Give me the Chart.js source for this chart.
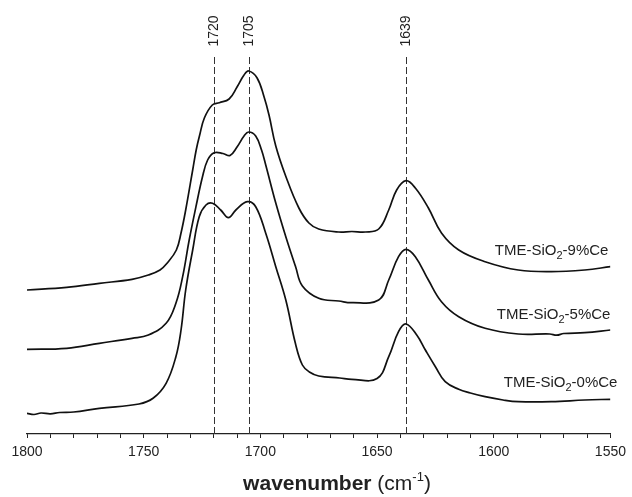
<!DOCTYPE html>
<html>
<head>
<meta charset="utf-8">
<script src="https://cdn.jsdelivr.net/npm/chart.js@4/dist/chart.umd.min.js"></script>
<style>
  html, body { margin: 0; padding: 0; background: #fff; }
  #wrap { width: 632px; height: 497px; position: relative; }
</style>
</head>
<body>
<div id="wrap"><canvas id="c" width="632" height="497"></canvas></div>
<script>
// ---- data (wavenumber in cm-1, absorbance in arbitrary offset units) ----
const seriesNames = ['TME-SiO2-9%Ce', 'TME-SiO2-5%Ce', 'TME-SiO2-0%Ce'];

const x9 = [1800, 1783, 1769, 1755, 1748, 1743, 1740, 1736, 1734, 1732, 1729, 1727.5, 1726, 1724, 1720.6, 1717.6, 1713.4, 1710, 1707, 1705, 1701.4, 1698.4, 1696.3, 1693.4, 1689, 1683.5, 1679.2, 1675, 1666.4, 1660.8, 1655, 1649.3, 1645, 1641.6, 1637.6, 1633.6, 1628, 1622.4, 1615, 1603.7, 1589.5, 1575.3, 1561, 1550];
const y9 = [144, 146.7, 150.7, 154.7, 159, 164, 170.7, 184, 201, 224, 264, 284, 299, 316, 329, 331.3, 335, 347, 359, 363, 356, 337, 319, 288, 257, 226, 211, 205, 202, 202.5, 202, 205, 224, 244, 253.3, 246, 226, 201, 184, 172.3, 164, 162.3, 164, 167.3];

const x5 = [1800, 1783, 1769, 1755, 1748, 1740.4, 1736.2, 1733.3, 1730.5, 1727.6, 1724.8, 1722.6, 1719.8, 1716, 1713, 1710, 1707, 1705, 1702, 1699.5, 1697.7, 1693.4, 1689.1, 1684.9, 1682, 1675, 1666.4, 1660.8, 1649.3, 1645, 1640.8, 1637.6, 1633.6, 1628, 1622.4, 1615, 1603.7, 1589.5, 1576, 1573, 1570, 1561, 1550];
const y5 = [84.7, 85.7, 90.7, 95.7, 99, 110.7, 130.7, 157.3, 194, 227.3, 257.3, 274, 281.3, 280.5, 278.5, 287, 298, 302, 298, 284, 269, 231, 197.3, 167.3, 148, 135.7, 133, 131.3, 134, 154, 177.3, 184.7, 177.3, 154, 132.3, 117.3, 105.7, 100, 100, 98.8, 100.5, 101.3, 104];

const x0 = [1800, 1797, 1794, 1790, 1786, 1780, 1769, 1752, 1746, 1740.4, 1736.2, 1734, 1732, 1729, 1726.2, 1723.3, 1720.5, 1717, 1713.7, 1710.5, 1705.6, 1702, 1697.7, 1693.4, 1689.1, 1685, 1682, 1679, 1675, 1666, 1660.8, 1650, 1645, 1640.8, 1637.6, 1633, 1629.3, 1625, 1620.8, 1615, 1610, 1603.7, 1596, 1589.5, 1575.3, 1561, 1550];
const y0 = [20.7, 19.5, 21, 20.2, 21.5, 22, 25.7, 30, 35.7, 50.7, 77.3, 104, 144, 184, 217.3, 229, 230.7, 224, 216.3, 224, 232.3, 227.3, 200.7, 167.3, 134, 90.7, 69, 62, 58, 56, 54.7, 55.5, 77.3, 102.3, 110, 99, 84, 67.3, 52.3, 44.7, 41, 37.3, 34, 32.3, 32.3, 34, 34.7];

const majorTicks = [1800, 1750, 1700, 1650, 1600, 1550];
const markerPositions = [1720, 1705, 1637.6];
const markerLabels = ['1720', '1705', '1639'];

const FONT = '"Liberation Sans", Arial, Helvetica, sans-serif';

function pts(xs, ys) { return xs.map((x, i) => ({ x: x, y: ys[i] })); }

const labelPlugin = {
  id: 'decor',
  beforeDatasetsDraw(chart) {
    const ctx = chart.ctx, xs = chart.scales.x, area = chart.chartArea;
    ctx.save();
    ctx.strokeStyle = '#333';
    ctx.lineWidth = 1;
    ctx.setLineDash([7, 3]);
    markerPositions.forEach(v => {
      const px = Math.round(xs.getPixelForValue(v)) + 0.5;
      ctx.beginPath();
      ctx.moveTo(px, area.top);
      ctx.lineTo(px, area.bottom);
      ctx.stroke();
    });
    ctx.restore();
  },
  afterDraw(chart) {
    const ctx = chart.ctx, xs = chart.scales.x, ys = chart.scales.y, area = chart.chartArea;
    ctx.save();
    ctx.fillStyle = '#222';
    ctx.font = '14px ' + FONT;
    ctx.textAlign = 'center';
    ctx.textBaseline = 'middle';
    markerPositions.forEach((v, i) => {
      const px = xs.getPixelForValue(v);
      ctx.save();
      ctx.translate(px, area.top - 26);
      ctx.rotate(-Math.PI / 2);
      ctx.fillText(markerLabels[i], 0, 0);
      ctx.restore();
    });
    const anchors = [[area.right - 2, ys.getPixelForValue(179)], [area.right, ys.getPixelForValue(115)], [area.right + 7, ys.getPixelForValue(47)]];
    seriesNames.forEach((name, i) => {
      const parts = name.split('2');
      const a = parts[0], b = parts.slice(1).join('2');
      ctx.textAlign = 'left';
      ctx.textBaseline = 'alphabetic';
      ctx.font = '15px ' + FONT;
      const wa = ctx.measureText(a).width, wb = ctx.measureText(b).width;
      ctx.font = '11px ' + FONT;
      const w2 = ctx.measureText('2').width;
      let x = anchors[i][0] - (wa + w2 + wb);
      const y = anchors[i][1];
      ctx.font = '15px ' + FONT;
      ctx.fillText(a, x, y); x += wa;
      ctx.font = '11px ' + FONT;
      ctx.fillText('2', x, y + 4); x += w2;
      ctx.font = '15px ' + FONT;
      ctx.fillText(b, x, y);
    });
    // axis title
    ctx.textBaseline = 'alphabetic';
    const FS = 21;
    ctx.font = 'bold ' + FS + 'px ' + FONT;
    const t1 = 'wavenumber ';
    const w1 = ctx.measureText(t1).width;
    ctx.font = FS + 'px ' + FONT;
    const t2 = '(cm', t4 = ')';
    const wt2 = ctx.measureText(t2).width, wt4 = ctx.measureText(t4).width;
    ctx.font = '13px ' + FONT;
    const t3 = '-1';
    const wt3 = ctx.measureText(t3).width;
    const total = w1 + wt2 + wt3 + wt4;
    let tx = 337 - total / 2;
    const ty = 490;
    ctx.textAlign = 'left';
    ctx.font = 'bold ' + FS + 'px ' + FONT; ctx.fillText(t1, tx, ty); tx += w1;
    ctx.font = FS + 'px ' + FONT; ctx.fillText(t2, tx, ty); tx += wt2;
    ctx.font = '13px ' + FONT; ctx.fillText(t3, tx, ty - 9); tx += wt3;
    ctx.font = FS + 'px ' + FONT; ctx.fillText(t4, tx, ty);
    ctx.restore();
  }
};

const lineStyle = { borderColor: '#111', borderWidth: 1.7, pointRadius: 0, fill: false, tension: 0.4 };

new Chart(document.getElementById('c'), {
  type: 'line',
  data: {
    datasets: [
      Object.assign({ label: seriesNames[0], data: pts(x9, y9) }, lineStyle),
      Object.assign({ label: seriesNames[1], data: pts(x5, y5) }, lineStyle),
      Object.assign({ label: seriesNames[2], data: pts(x0, y0) }, lineStyle)
    ]
  },
  options: {
    responsive: false,
    animation: false,
    devicePixelRatio: 1,
    layout: { padding: { left: 27, right: 19, top: 57, bottom: 0 } },
    plugins: { legend: { display: false }, tooltip: { enabled: false } },
    scales: {
      x: {
        type: 'linear',
        reverse: true,
        min: 1550, max: 1800,
        afterFit(scale) { scale.height = 63; },
        border: { display: true, color: '#222', width: 1.2 },
        grid: { display: true, drawOnChartArea: false, drawTicks: true, tickLength: 4, color: '#222', lineWidth: 1 },
        ticks: {
          stepSize: 10,
          autoSkip: false,
          maxRotation: 0,
          padding: 6,
          color: '#222',
          font: { family: FONT, size: 14 },
          callback: (v) => majorTicks.includes(v) ? String(v) : ''
        }
      },
      y: { display: false, min: 0, max: 377 }
    }
  },
  plugins: [labelPlugin]
});
</script>
</body>
</html>
